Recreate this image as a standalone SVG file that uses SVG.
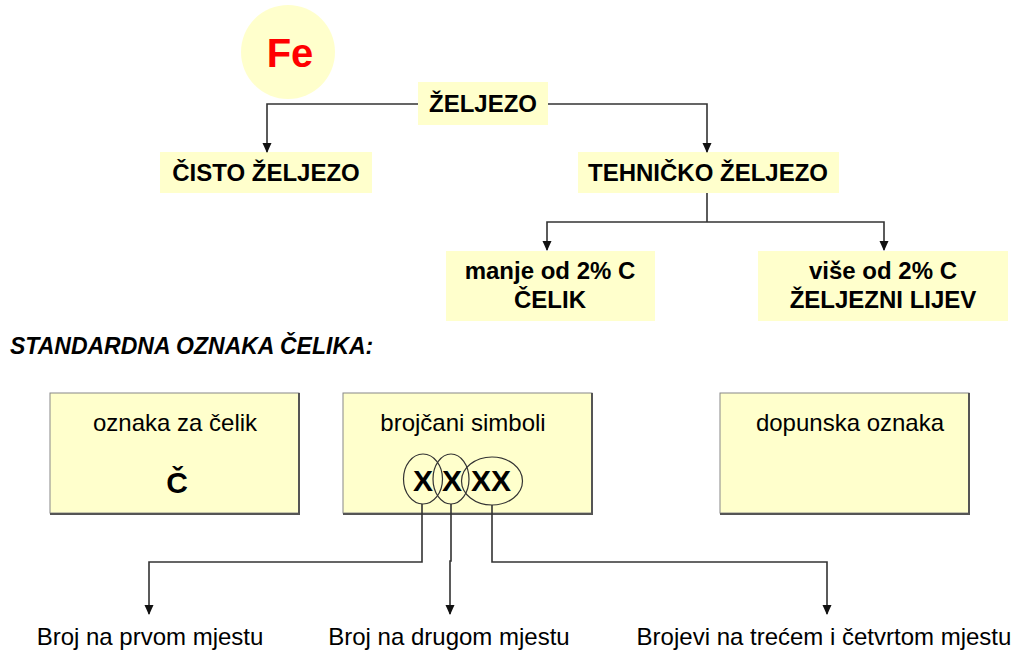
<svg xmlns="http://www.w3.org/2000/svg" width="1019" height="650" viewBox="0 0 1019 650">
<defs>
<marker id="arr" markerWidth="10" markerHeight="10" refX="9" refY="5" orient="auto" markerUnits="userSpaceOnUse">
<path d="M0,0.5 L10,5 L0,9.5 Z" fill="#111"/>
</marker>
<style>
.t{font-family:"Liberation Sans",Arial,sans-serif;font-size:24px;fill:#000;text-anchor:middle}
.b{font-weight:bold}
.hb{fill:#FFFFCC}
.bx{fill:#FFFFCC;stroke:#888;stroke-width:1}
.sh{fill:none;stroke:#555;stroke-width:2}
.c{fill:none;stroke:#333;stroke-width:1.6}
.e{fill:none;stroke:#333;stroke-width:1.2}
</style>
</defs>
<rect width="1019" height="650" fill="#fff"/>
<g id="fe">
<ellipse cx="288" cy="52" rx="47" ry="47" class="hb"/>
<text x="290" y="67" class="t b" style="font-size:40px;fill:#FF0000">Fe</text>
</g>
<g id="zeljezo">
<rect x="418" y="82" width="130" height="43" class="hb"/>
<text x="483" y="112" class="t b">ŽELJEZO</text>
</g>
<g id="cisto">
<rect x="160" y="152" width="212" height="41" class="hb"/>
<text x="266" y="181" class="t b">ČISTO ŽELJEZO</text>
</g>
<g id="tehnicko">
<rect x="578" y="152" width="261" height="41" class="hb"/>
<text x="708" y="181" class="t b">TEHNIČKO ŽELJEZO</text>
</g>
<g id="celik">
<rect x="446" y="251" width="209" height="70" class="hb"/>
<text x="550" y="279" class="t b">manje od 2% C</text>
<text x="550" y="308" class="t b">ČELIK</text>
</g>
<g id="lijev">
<rect x="758" y="251" width="250" height="70" class="hb"/>
<text x="883" y="279" class="t b">više od 2% C</text>
<text x="883" y="308" class="t b">ŽELJEZNI LIJEV</text>
</g>
<g id="naslov">
<text x="10" y="354" class="t b" style="font-style:italic;text-anchor:start;font-size:23px">STANDARDNA OZNAKA ČELIKA:</text>
</g>
<g id="oznaka">
<rect x="50" y="393" width="249" height="120" class="bx"/>
<path d="M299 393 V514 H50" class="sh"/>
<text x="175" y="431" class="t">oznaka za čelik</text>
<text x="177" y="493" class="t b" style="font-size:30px">Č</text>
</g>
<g id="brojcani">
<rect x="343" y="393" width="249" height="120" class="bx"/>
<path d="M592 393 V514 H343" class="sh"/>
<text x="463" y="431" class="t">brojčani simboli</text>
<text x="423" y="491" class="t b" style="font-size:30px">X</text>
<text x="452" y="491" class="t b" style="font-size:30px">X</text>
<text x="491" y="491" class="t b" style="font-size:30px">XX</text>
<ellipse cx="423" cy="479" rx="19.5" ry="25" class="e"/>
<ellipse cx="451" cy="479" rx="18" ry="25" class="e"/>
<ellipse cx="492" cy="481" rx="30.5" ry="24" class="e"/>
</g>
<g id="dopunska">
<rect x="720" y="393" width="249" height="120" class="bx"/>
<path d="M969 393 V514 H720" class="sh"/>
<text x="850" y="431" class="t">dopunska oznaka</text>
</g>
<g id="labels">
<text x="150" y="645" class="t">Broj na prvom mjestu</text>
<text x="449" y="645" class="t">Broj na drugom mjestu</text>
<text x="824" y="645" class="t">Brojevi na trećem i četvrtom mjestu</text>
</g>
<g id="connectors">
<path d="M418 104 H267 V152" class="c" marker-end="url(#arr)"/>
<path d="M548 104 H707 V152" class="c" marker-end="url(#arr)"/>
<path d="M707 193 V222" class="c"/>
<path d="M707 222 H547 V250" class="c" marker-end="url(#arr)"/>
<path d="M707 222 H884 V250" class="c" marker-end="url(#arr)"/>
<path d="M422 504 V562 H149 V614" class="c" marker-end="url(#arr)"/>
<path d="M451 504 V561 H450 V614" class="c" marker-end="url(#arr)"/>
<path d="M492 505 V562 H827 V614" class="c" marker-end="url(#arr)"/>
</g>
</svg>
